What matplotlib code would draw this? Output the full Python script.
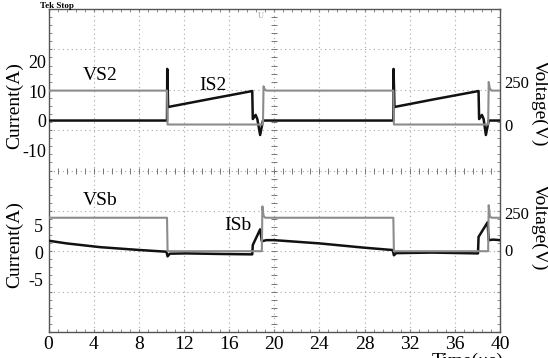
import numpy as np
import matplotlib.pyplot as plt

plt.rcParams['font.family'] = ['Liberation Serif', 'DejaVu Serif']
plt.rcParams['axes.unicode_minus'] = False

# ---- waveform data read off the scope capture (time in us) ----
# top panel: switch S2
t_is2 = [0, 10.5, 10.52, 10.6, 14.3, 18.05, 18.1, 18.35, 18.5, 18.75, 19.0,
         30.55, 30.57, 30.65, 34.3, 38.1, 38.15, 38.4, 38.55, 38.75, 39.0, 40]
is2 = [0, 0, 17.5, 4.6, 7.3, 10.0, 0.5, 1.9, 0.5, -4.9, 0,
       0, 17.5, 4.6, 7.3, 10.0, 0.5, 1.9, 0.5, -4.9, 0, 0]
t_vs2 = [0, 10.5, 10.55, 19.0, 19.05, 19.15, 19.3, 30.55, 30.6, 38.95, 39.0, 39.1, 39.25, 40]
vs2 = [200, 200, 3, 3, 225, 208, 200, 200, 3, 3, 250, 212, 200, 200]

# bottom panel: switch Sb
t_isb = [0, 1.6, 4.6, 8.1, 10.45, 10.55, 10.75, 12.2, 15, 18.05, 18.1, 18.75, 18.9, 19.3,
         20, 22, 24, 26, 28, 30.5, 30.6, 30.8, 34, 38.05, 38.1, 38.9, 39.0, 39.4, 40]
isb = [2.1, 1.6, 0.9, 0.37, 0.06, -0.8, -0.3, -0.25, -0.35, -0.43, 1.3, 4.2, 2.0, 2.2,
       2.2, 1.9, 1.6, 1.2, 0.8, 0.37, -0.6, -0.2, -0.1, -0.25, 2.8, 5.5, 2.2, 2.3, 2.2]
t_vsb = [0, 10.5, 10.55, 18.9, 18.95, 19.05, 19.2, 30.55, 30.6, 38.95, 39.0, 39.1, 39.25, 40]
vsb = [216, 216, -8, -8, 292, 230, 216, 216, -8, -8, 300, 225, 216, 216]

x_ticks = [0, 4, 8, 12, 16, 20, 24, 28, 32, 36, 40]
cur_ticks_top = [-10, 0, 10, 20]
cur_ticks_bot = [-5, 0, 5]
volt_ticks = [0, 250]

W, H = 548, 358
BLACK = '#111111'
GRAY = '#8c8c8c'


def px_box(x0, y0, x1, y1):
    # pixel box (top-left origin) -> figure rect
    return [x0 / W, 1 - y1 / H, (x1 - x0) / W, (y1 - y0) / H]


def px_text(x, y, s, **kw):
    fig.text(x / W, 1 - y / H, s, **kw)


fig = plt.figure(figsize=(W / 100, H / 100), dpi=100)

# scope graticule: 10 x 8 divisions
g = fig.add_axes(px_box(48.5, 9, 500, 332))
g.set_xlim(0, 10)
g.set_ylim(0, 8)
for k in range(1, 10):
    g.axvline(k, color='#a8a8a8', ls=(0, (1, 3)), lw=0.8)
for k in range(1, 8):
    g.axhline(k, color='#a8a8a8', ls=(0, (1, 3)), lw=0.8)
g.set_xticks(range(11))
g.set_yticks(range(9))
g.set_xticks(np.arange(0, 10.01, 0.2), minor=True)
g.set_yticks(np.arange(0, 8.01, 0.2), minor=True)
g.tick_params(which='both', direction='in', top=True, right=True, length=2.5,
              color='#777777', labelleft=False, labelbottom=False)
g.plot(np.arange(0, 10.01, 0.2), np.full(51, 4), ls='none', marker='|', ms=4, mew=0.7, color='#777777')
g.plot(np.full(41, 5), np.arange(0, 8.01, 0.2), ls='none', marker='_', ms=4, mew=0.7, color='#777777')
for s in g.spines.values():
    s.set_color('#555555')
    s.set_linewidth(1.0)


def setup(ax, ylim, ticks):
    ax.set_xlim(0, 40)
    ax.set_ylim(*ylim)
    ax.set_yticks(ticks)
    ax.patch.set_visible(False)
    for s in ax.spines.values():
        s.set_visible(False)


# top panel
ax1 = fig.add_axes(px_box(48.5, 9, 500, 171))
setup(ax1, (-17.1, 37.8), cur_ticks_top)
ax1.plot(t_is2, is2, color=BLACK, lw=1.8)
ax1.set_xticks([])
ax1.tick_params(axis='y', length=0, pad=1.5, labelsize=13)
ax1.text(4.57, 15.4, 'VS2', ha='center', va='center', fontsize=14)
ax1.text(14.6, 12.0, 'IS2', ha='center', va='center', fontsize=14)

ax1v = ax1.twinx()
setup(ax1v, (-267, 674), volt_ticks)
ax1v.plot(t_vs2, vs2, color=GRAY, lw=1.5)
ax1v.tick_params(axis='y', length=0, pad=3, labelsize=12)

# bottom panel
ax2 = fig.add_axes(px_box(48.5, 171, 500, 332))
setup(ax2, (-14.8, 15.0), cur_ticks_bot)
ax2.plot(t_isb, isb, color=BLACK, lw=1.8)
ax2.set_xticks(x_ticks)
ax2.tick_params(axis='x', length=0, pad=3, labelsize=14)
ax2.tick_params(axis='y', length=0, pad=4, labelsize=13)
ax2.text(4.57, 9.6, 'VSb', ha='center', va='center', fontsize=14)
ax2.text(16.8, 5.0, 'ISb', ha='center', va='center', fontsize=14)

ax2v = ax2.twinx()
setup(ax2v, (-549, 529), volt_ticks)
ax2v.plot(t_vsb, vsb, color=GRAY, lw=1.5)
ax2v.tick_params(axis='y', length=0, pad=3, labelsize=12)

# axis titles
px_text(14.5, 106, 'Current(A)', fontsize=14, rotation=90, ha='center', va='center')
px_text(14.5, 245, 'Current(A)', fontsize=14, rotation=90, ha='center', va='center')
px_text(539.5, 103.5, 'Voltage(V)', fontsize=14, rotation=270, ha='center', va='center')
px_text(539.5, 227, 'Voltage(V)', fontsize=14, rotation=270, ha='center', va='center')

px_text(40, 9.5, 'Tek Stop', fontsize=6.5, fontweight='bold', va='bottom')
px_text(260.5, 15.5, 'U', fontsize=6, color='#999999', ha='center', va='center')
px_text(432, 353, 'Time(μs)', fontsize=14, va='top')

fig.savefig('out.png', dpi=100)
